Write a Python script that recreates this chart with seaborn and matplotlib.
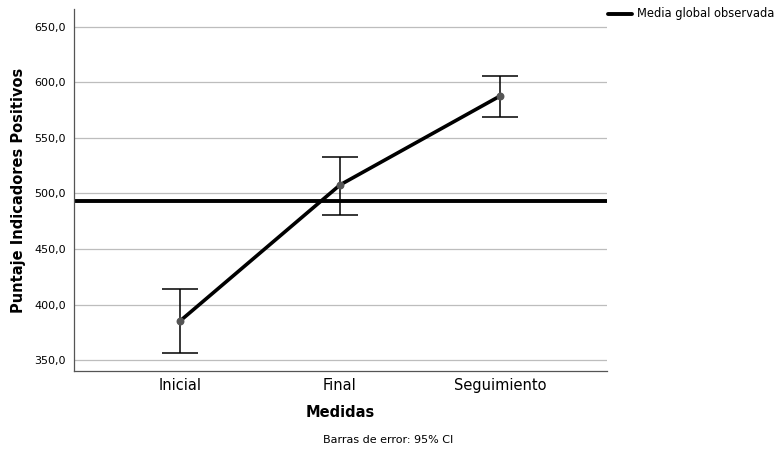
import matplotlib
matplotlib.use("Agg")
import matplotlib.pyplot as plt
import seaborn as sns
import pandas as pd
from matplotlib.ticker import FuncFormatter

categories = ["Inicial", "Final", "Seguimiento"]
means = [385.1, 507.7, 587.8]
ci_low = [356.3, 480.6, 568.9]
ci_high = [414.0, 532.9, 605.9]
global_mean = 493.2
yticks = [350, 400, 450, 500, 550, 600, 650]

sns.set_theme(style="white")
plt.rcParams['font.family'] = ['DejaVu Sans']
plt.rcParams['text.color'] = 'black'
plt.rcParams['axes.labelcolor'] = 'black'
plt.rcParams['xtick.color'] = 'black'
plt.rcParams['ytick.color'] = 'black'

df = pd.DataFrame({"Medidas": categories, "Puntaje": means})

fig = plt.figure(figsize=(7.81, 4.53), dpi=100)
ax = fig.add_axes([74/781, 1-371/453, (607-74)/781, (371-9)/453])

for y in yticks:
    ax.axhline(y, color="#bdbdbd", lw=0.9, zorder=0)

ax.axhline(global_mean, color="black", lw=2.8, zorder=2)

pos = list(range(len(categories)))
ax.errorbar(pos, means,
            yerr=[[m - l for m, l in zip(means, ci_low)], [h - m for m, h in zip(means, ci_high)]],
            fmt="none", ecolor="black", elinewidth=1.1, capsize=13, capthick=1.1, zorder=3)

sns.pointplot(data=df, x="Medidas", y="Puntaje", errorbar=None, color="black",
              markers="o", linewidth=2.6, markersize=0, ax=ax, zorder=4)
ax.scatter(pos, means, s=22, color="#555555", zorder=5)

ax.set_xlim(-0.6625, 2.669)
ax.set_ylim(340.1, 666.2)
ax.set_yticks(yticks)
ax.yaxis.set_major_formatter(FuncFormatter(lambda v, p: f"{v:.1f}".replace(".", ",")))
ax.tick_params(axis="y", labelsize=8, length=0, pad=6)
ax.tick_params(axis="x", labelsize=10.5, length=0, pad=5)
for s in ["top", "right"]:
    ax.spines[s].set_visible(False)
for s in ["left", "bottom"]:
    ax.spines[s].set_color("#555555")
    ax.spines[s].set_linewidth(0.9)
ax.set_xlabel("Medidas", fontsize=10.5, fontweight="bold", labelpad=9)
ax.set_ylabel("Puntaje Indicadores Positivos", fontsize=10.5, fontweight="bold", labelpad=6)

fig.text(388/781, 1-440/453, "Barras de error: 95% CI", ha="center", va="center", fontsize=8)
fig.add_artist(plt.Line2D([608/781, 632/781], [1-14/453, 1-14/453], color="black", lw=2.8))
fig.text(637/781, 1-14/453, "Media global observada", ha="left", va="center", fontsize=8.3)

fig.savefig("out.png", dpi=100)
